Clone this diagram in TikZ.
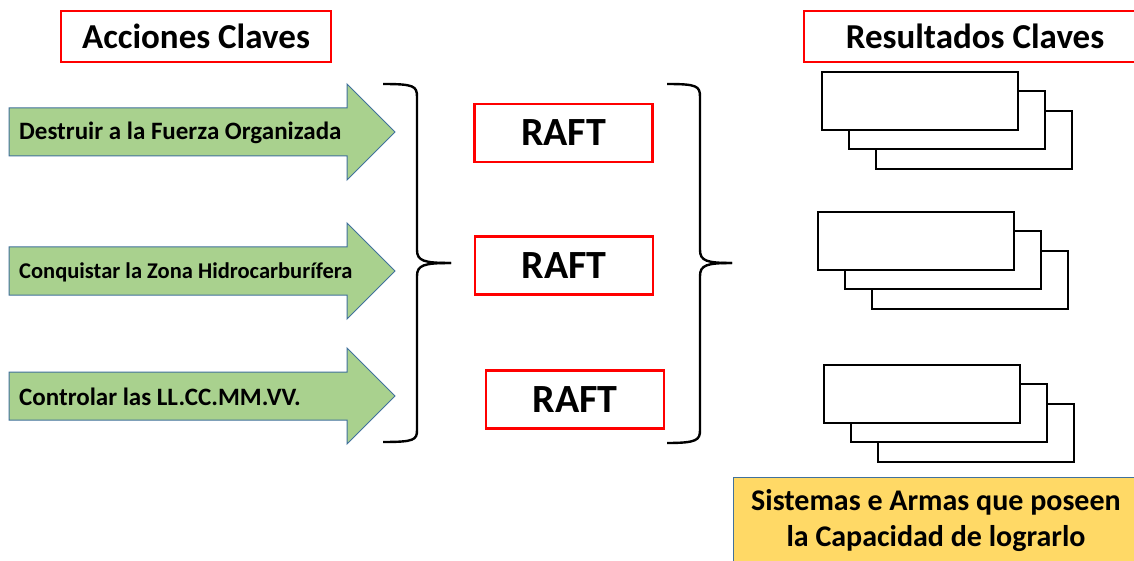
\documentclass[tikz,border=0pt]{standalone}
\usepackage{fontspec}
\setmainfont{Carlito}
\usepackage{tikz}
\usetikzlibrary{calc}

\definecolor{arrowgreen}{HTML}{A9D18E}
\definecolor{arrowblue}{HTML}{41719C}
\definecolor{notegold}{HTML}{FFD966}

\tikzset{
    titlebox/.style={draw=red, line width=2.2pt, fill=white, inner sep=0pt,
        minimum height=51pt, font=\bfseries\fontsize{35}{42}\selectfont},
    raftbox/.style={draw=red, line width=2.2pt, fill=white, inner sep=0pt,
        minimum width=178pt, minimum height=58pt, font=\bfseries\fontsize{40}{48}\selectfont},
    acttext/.style={anchor=west, inner sep=0pt, font=\bfseries},
    stackbox/.style={draw=black, line width=2.4pt, fill=white, inner sep=0pt,
        minimum width=196pt, minimum height=58pt, anchor=north west},
    bracket/.style={line width=2.4pt},
    notebox/.style={draw=arrowblue, line width=1pt, fill=notegold, inner sep=0pt,
        minimum width=406pt, minimum height=100pt, anchor=north west}
}

\begin{document}
\begin{tikzpicture}[x=1pt, y=-1pt]
    \fill[white] (0,0) rectangle (1134,561);
    \useasboundingbox (0,0) rectangle (1134,561);

    % titulos
    \node[titlebox, minimum width=270pt] (acciones) at (196,36.5) {Acciones Claves};
    \node[titlebox, minimum width=342pt] (resultados) at (975,36.5) {Resultados Claves};

    % flechas de acciones
    \foreach \yy/\sz/\nm/\txt in {132/25/destruir/Destruir a la Fuerza Organizada,
                                  271/22.5/conquistar/Conquistar la Zona Hidrocarburífera,
                                  396/25/controlar/Controlar las LL.CC.MM.VV.} {
        \filldraw[draw=arrowblue, fill=arrowgreen, line width=1pt]
            (9,\yy-24) -- (347,\yy-24) -- (347,\yy-48) -- (395,\yy) -- (347,\yy+48)
            -- (347,\yy+24) -- (9,\yy+24) -- cycle;
        \node[acttext] (\nm) at (19,\yy+1) {\fontsize{\sz}{\sz}\selectfont\txt};
    }

    % llaves
    \draw[bracket] (383,84) .. controls (414,84) and (417,86) .. (417,97) -- (417,250)
        .. controls (417,261) and (424,263) .. (451,263);
    \draw[bracket] (451,263) .. controls (424,263) and (417,265) .. (417,276) -- (417,430)
        .. controls (417,440) and (414,442) .. (383,442);
    \draw[bracket] (667,84) .. controls (697,84) and (700,86) .. (700,97) -- (700,250)
        .. controls (700,261) and (707,263) .. (732,263);
    \draw[bracket] (732,263) .. controls (707,263) and (700,265) .. (700,276) -- (700,430)
        .. controls (700,440) and (697,443) .. (667,443);

    % RAFT
    \node[raftbox] (raft1) at (563.5,133) {RAFT};
    \node[raftbox] (raft2) at (564,265.5) {RAFT};
    \node[raftbox] (raft3) at (575,399.5) {RAFT};

    % pilas de resultados
    \foreach \xx/\yy/\i in {821/71/1, 817/211/2, 823/364/3} {
        \node[stackbox] (res\i c) at (\xx+54,\yy+39) {};
        \node[stackbox] (res\i b) at (\xx+27,\yy+19) {};
        \node[stackbox] (res\i a) at (\xx,\yy) {};
    }

    % sistemas
    \node[notebox] (sistemas) at (733,477) {};
    \node[align=center, font=\bfseries\fontsize{30}{36}\selectfont, inner sep=0pt]
        (sistemastxt) at (936,521) {Sistemas e Armas que poseen\\la Capacidad de lograrlo};
\end{tikzpicture}
\end{document}
